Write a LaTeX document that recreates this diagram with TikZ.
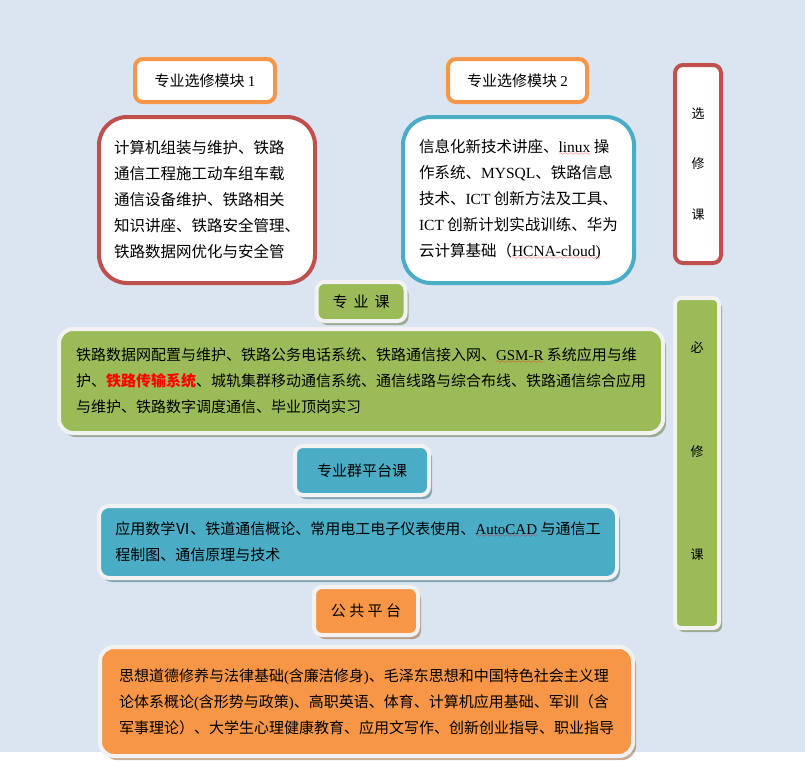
\documentclass[tikz,border=0pt]{standalone}
\usepackage{fontspec}
\setmainfont{Noto Sans CJK SC}
\newfontfamily\lat{Liberation Serif}
\usepackage{tikz}
\definecolor{pagebg}{RGB}{219, 229, 241}
\definecolor{wordorange}{RGB}{247, 150, 70}
\definecolor{wordred}{RGB}{192, 80, 77}
\definecolor{wordblue}{RGB}{75, 172, 198}
\definecolor{wordgreen}{RGB}{155, 187, 89}
\definecolor{rimwhite}{RGB}{242, 242, 242}
\usetikzlibrary{
  positioning,
  shadows,
}
\font\wavefont=lasy6
\newcommand\spellwave[1]{\leavevmode\setbox0\hbox{#1}\rlap{\color{red}\raisebox{-3pt}[0pt][0pt]{\hbox to \wd0{\xleaders\hbox{\wavefont\char58}\hfill}}}\box0\relax}
\tikzset{
  tagbox/.style={draw=wordorange,fill=white,line width=4pt,rounded corners=8pt,minimum width=140pt,minimum height=43pt,font=\fontsize{15}{26}\selectfont},
  listbox/.style={draw=#1,fill=white,line width=4pt,rounded corners=28pt,minimum height=166pt,align=left,font=\fontsize{15.5}{26}\selectfont},
  solidbox/.style={fill=#1,draw=rimwhite,line width=4pt,rounded corners=8pt,drop shadow={shadow xshift=3pt,shadow yshift=-4pt,fill=#1!60!black,opacity=.5},font=\fontsize{15}{26}\selectfont},
}
\begin{document}
\begin{tikzpicture}[x=1pt,y=-1pt,node distance=0pt and 0pt]
      \useasboundingbox (0,0) rectangle (806,763);
      \fill[pagebg] (0,0) rectangle (805,752);

      \node[listbox=wordred,minimum width=216pt]    (opt1) at (207,200)    {计算机组装与维护、铁路\\通信工程施工动车组车载\\通信设备维护、铁路相关\\知识讲座、铁路安全管理、\\铁路数据网优化与安全管};
      \node[listbox=wordblue,minimum width=231pt]    (opt2) at (518.5,200)    {信息化新技术讲座、\spellwave{\lat linux} 操\\作系统、{\lat MYSQL}、铁路信息\\技术、{\lat ICT} 创新方法及工具、\\{\lat ICT} 创新计划实战训练、华为\\云计算基础（\spellwave{\lat HCNA-cloud)}};
      \node[tagbox]    (tag1)  [above=11pt of opt1,xshift=-2pt]    {专业选修模块 {\lat 1}};
      \node[tagbox,minimum width=139pt]    (tag2)  [above=11pt of opt2,xshift=-1pt]    {专业选修模块 {\lat 2}};

      \node[solidbox=wordgreen,rounded corners=14pt,minimum width=604pt,minimum height=104pt,align=left]    (majorlist) at (361,381)    {铁路数据网配置与维护、铁路公务电话系统、铁路通信接入网、\spellwave{\lat GSM-R} 系统应用与维\\护、{\color{red}\bfseries 铁路传输系统}、城轨集群移动通信系统、通信线路与综合布线、铁路通信综合应用\\与维护、铁路数字调度通信、毕业顶岗实习};
      \node[solidbox=wordgreen,minimum width=89pt,minimum height=39pt]    (major)  [above=4pt of majorlist]    {专\hspace{6pt}业\hspace{6pt}课};
      \node[solidbox=wordblue,minimum width=134pt,minimum height=49pt]    (platform)  [below=9pt of majorlist,xshift=1pt]    {专业群平台课};

      \node[solidbox=wordblue,rounded corners=10pt,minimum width=518pt,minimum height=72pt,align=left]    (platformlist) at (358,542)    {应用数学Ⅵ、铁道通信概论、常用电工电子仪表使用、\spellwave{\lat AutoCAD} 与通信工\\程制图、通信原理与技术};
      \node[solidbox=wordorange,minimum width=104pt,minimum height=48pt]    (public)  [below=5pt of platformlist,xshift=8pt]    {公 共 平 台};

      \node[solidbox=wordorange,rounded corners=14pt,minimum width=533pt,minimum height=109pt,align=left]    (publiclist) at (366.5,701.5)    {思想道德修养与法律基础{\lat (}含廉洁修身{\lat )}、毛泽东思想和中国特色社会主义理\\论体系概论{\lat (}含形势与政策{\lat )}、高职英语、体育、计算机应用基础、军训（含\\军事理论）、大学生心理健康教育、应用文写作、创新创业指导、职业指导};

      \node[draw=wordred,fill=white,line width=4pt,rounded corners=8pt,minimum width=46pt,minimum height=198pt,align=center,font=\fontsize{13}{50.5}\selectfont]    (optside) at (698,164)    {选\\修\\课};
      \node[solidbox=wordgreen,rounded corners=6pt,minimum width=44pt,minimum height=330pt,align=center,text depth=24pt,font=\fontsize{13}{103.5}\selectfont]    (reqside) at (697,463)    {必\\修\\课};
    \end{tikzpicture}
\end{document}
